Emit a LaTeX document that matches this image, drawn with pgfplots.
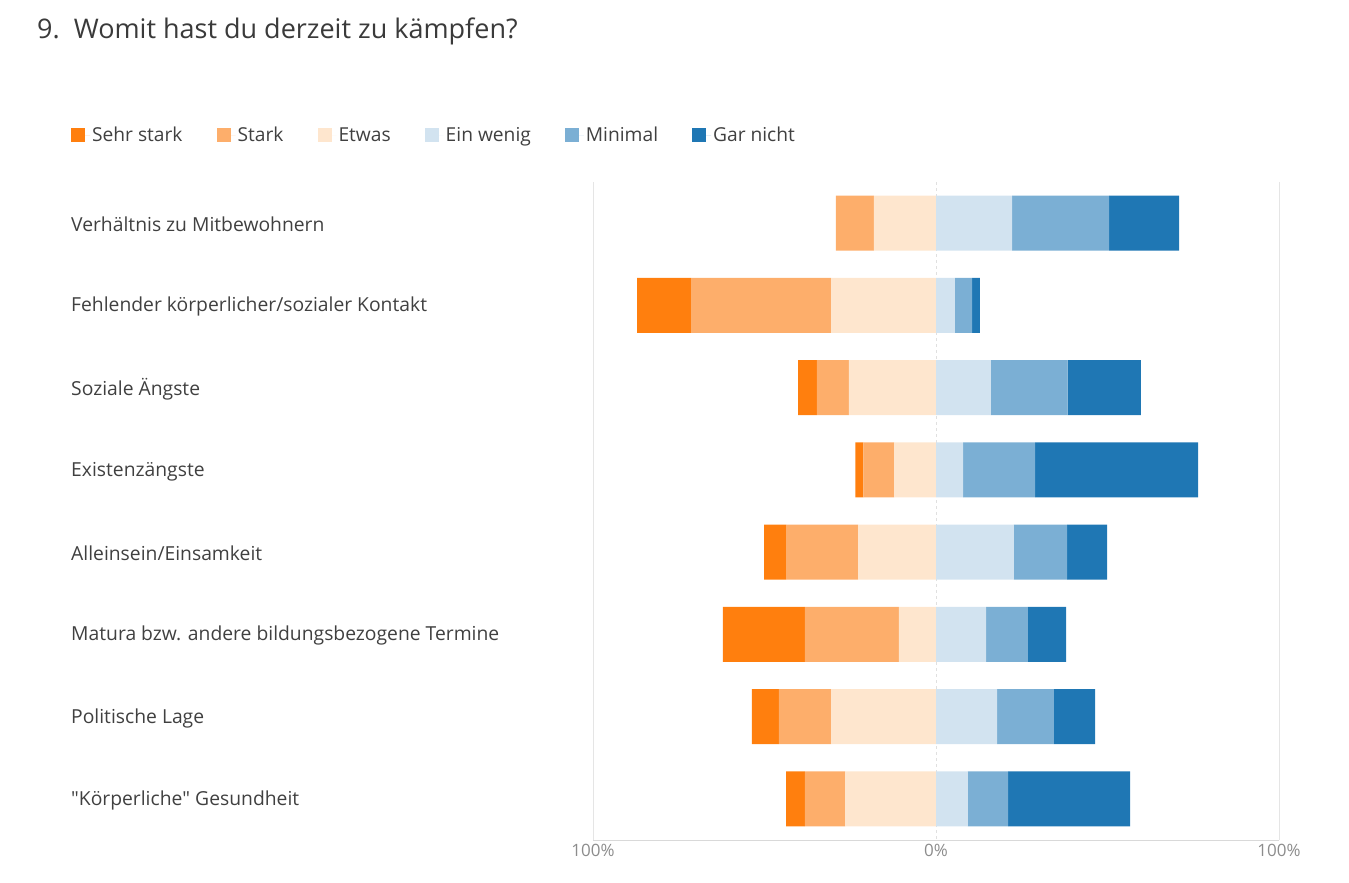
\documentclass[border=0pt]{standalone}
\usepackage{pgfplots}
\pgfplotsset{compat=1.18}
\usepackage{pgfplotstable}
\usepackage{fontspec}
\setmainfont{Open Sans}
\newfontfamily\qf{Open Sans}[Ligatures=TeXOff]
\definecolor{sehr}{HTML}{FF7F0E}
\definecolor{stark}{HTML}{FDAE6B}
\definecolor{etwas}{HTML}{FEE6CE}
\definecolor{ewenig}{HTML}{D2E3F0}
\definecolor{minimal}{HTML}{7BAFD4}
\definecolor{gar}{HTML}{1F77B4}
\definecolor{lbl}{HTML}{404040}
\pgfplotstableread{
row S St E EW M G
0 0.0 11.1 18.1 22.2 28.3 20.4
1 15.7 40.8 30.6 5.5 5.0 2.3
2 5.5 9.3 25.4 16.0 22.4 21.3
3 2.3 9.0 12.2 7.9 21.0 47.5
4 6.4 21.0 22.7 22.7 15.5 11.7
5 23.9 27.4 10.8 14.6 12.2 11.1
6 7.9 15.2 30.6 17.8 16.6 12.0
7 5.5 11.7 26.5 9.3 11.7 35.6
}\data
\pgfplotsset{common/.style={
  at={(593pt,43pt)}, anchor=south west, width=686pt, height=658pt, scale only axis,
  xmin=-100, xmax=100, ymin=-0.5, ymax=7.5, y dir=reverse,
  xbar stacked, bar width=55pt,
}}
\begin{document}
\begin{tikzpicture}
\useasboundingbox (0,0) rectangle (1349pt,883pt);
\node[anchor=base west, inner sep=0, text=lbl!90!black, font=\fontsize{27}{32}\selectfont] at (37pt,844pt) {9.\ \ Womit hast du derzeit zu kämpfen?};
\begin{axis}[common,
  axis x line*=bottom, axis y line*=left,
  y axis line style={draw=none}, x axis line style={draw=black!15},
  xtick={-100,100}, xticklabels={100\%,100\%},
  extra x ticks={0}, extra x tick labels={0\%},
  extra x tick style={grid style={dashed, black!12}},
  xmajorgrids, grid style={black!10},
  major tick length=0,
  ytick={0,...,7},
  yticklabels={Verhältnis zu Mitbewohnern, Fehlender körperlicher/sozialer Kontakt, Soziale Ängste, Existenzängste, Alleinsein/Einsamkeit, Matura bzw. andere bildungsbezogene Termine, Politische Lage, {{\qf"}Körperliche{\qf"} Gesundheit}},
  yticklabel style={anchor=west, xshift=-522pt, yshift=-1.5pt, inner sep=0pt, font=\fontsize{19.3}{23}\selectfont, text=lbl},
  xticklabel style={font=\fontsize{17}{20}\selectfont, text=black!45, yshift=-1pt},
  /pgf/number format/assume math mode=true,
]
\addplot[fill=etwas, draw=none] table[x expr=-\thisrow{E}, y=row] {\data};
\addplot[fill=stark, draw=none] table[x expr=-\thisrow{St}, y=row] {\data};
\addplot[fill=sehr, draw=none] table[x expr=-\thisrow{S}, y=row] {\data};
\end{axis}
\begin{axis}[common, hide axis,
  legend columns=6,
  legend image code/.code={\fill[#1] (0pt,-7pt) rectangle (14pt,7pt); \path (14pt,0pt) -- (19pt,0pt);},
  legend style={at={(-0.761,1.0714)}, anchor=west, draw=none, fill=none, inner sep=0pt,
    font=\fontsize{19.2}{23}\selectfont, text=lbl,
    /tikz/every even column/.append style={column sep=32pt}},
]
\addplot[fill=ewenig, draw=none, forget plot] table[x=EW, y=row] {\data};
\addplot[fill=minimal, draw=none, forget plot] table[x=M, y=row] {\data};
\addplot[fill=gar, draw=none, forget plot] table[x=G, y=row] {\data};
\addlegendimage{fill=sehr, draw=none}\addlegendentry{Sehr stark}
\addlegendimage{fill=stark, draw=none}\addlegendentry{Stark}
\addlegendimage{fill=etwas, draw=none}\addlegendentry{Etwas}
\addlegendimage{fill=ewenig, draw=none}\addlegendentry{Ein wenig}
\addlegendimage{fill=minimal, draw=none}\addlegendentry{Minimal}
\addlegendimage{fill=gar, draw=none}\addlegendentry{Gar nicht}
\end{axis}
\end{tikzpicture}
\end{document}
